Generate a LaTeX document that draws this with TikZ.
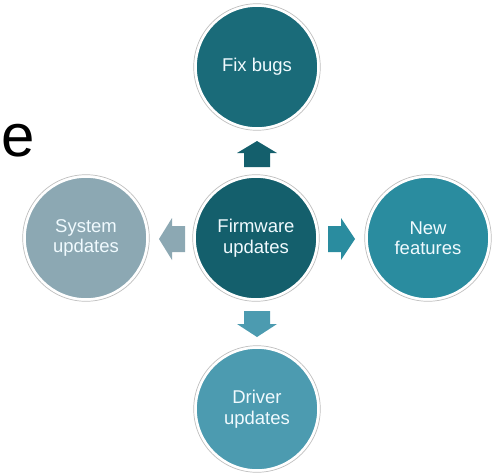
\documentclass[tikz,border=0pt]{standalone}
\usepackage{fontspec}
\setmainfont{Liberation Sans}
\begin{document}
\begin{tikzpicture}[x=1pt,y=-1pt,
  bubble/.style={circle, minimum size=123pt, inner sep=0pt, draw=white,
    line width=2.6pt, text=white!94!cyan, align=center,
    font=\fontsize{18.5}{20.5}\selectfont},
  rim/.style={draw=black!25, line width=0.7pt}]
\definecolor{tealdark}{HTML}{145F6C}
\definecolor{tealtop}{HTML}{1A6B79}
\definecolor{tealmid}{HTML}{2A8C9F}
\definecolor{teallight}{HTML}{4C9BB0}
\definecolor{slate}{HTML}{8CA8B3}
\useasboundingbox (0,0) rectangle (495,472);

% partial title letter at the left edge
\node[anchor=base west, inner sep=0pt, font=\fontsize{60}{60}\selectfont] (title) at (1,156) {e};

% circles
\node[bubble, fill=tealdark]  (core)  at (256,238) {Firmware\\updates};
\node[bubble, fill=tealtop]   (bugs)  at (257,67)  {Fix bugs};
\node[bubble, fill=slate]     (sys)   at (86,238)  {System\\updates};
\node[bubble, fill=tealmid]   (feat)  at (428,238) {New\\features};
\node[bubble, fill=teallight] (drv)   at (257,409) {Driver\\updates};
\foreach \n in {core,bugs,sys,feat,drv}
  \draw[rim] (\n.center) circle (63.3);

% block arrows between the centre and each outer circle
\coordinate (up)    at (257,141);
\coordinate (down)  at (257,337);
\coordinate (left)  at (159,239);
\coordinate (right) at (355,239);
\fill[tealdark]  (up)    -- ++(20,12) -- ++(-7,0) -- ++(0,14) -- ++(-26,0) -- ++(0,-14) -- ++(-7,0) -- cycle;
\fill[teallight] (down)  -- ++(20,-13) -- ++(-7,0) -- ++(0,-13) -- ++(-26,0) -- ++(0,13) -- ++(-7,0) -- cycle;
\fill[slate]     (left)  -- ++(13,-21) -- ++(0,8) -- ++(13,0) -- ++(0,26) -- ++(-13,0) -- ++(0,8) -- cycle;
\fill[tealmid]   (right) -- ++(-14,-21) -- ++(0,8) -- ++(-13,0) -- ++(0,26) -- ++(13,0) -- ++(0,8) -- cycle;
\end{tikzpicture}
\end{document}
